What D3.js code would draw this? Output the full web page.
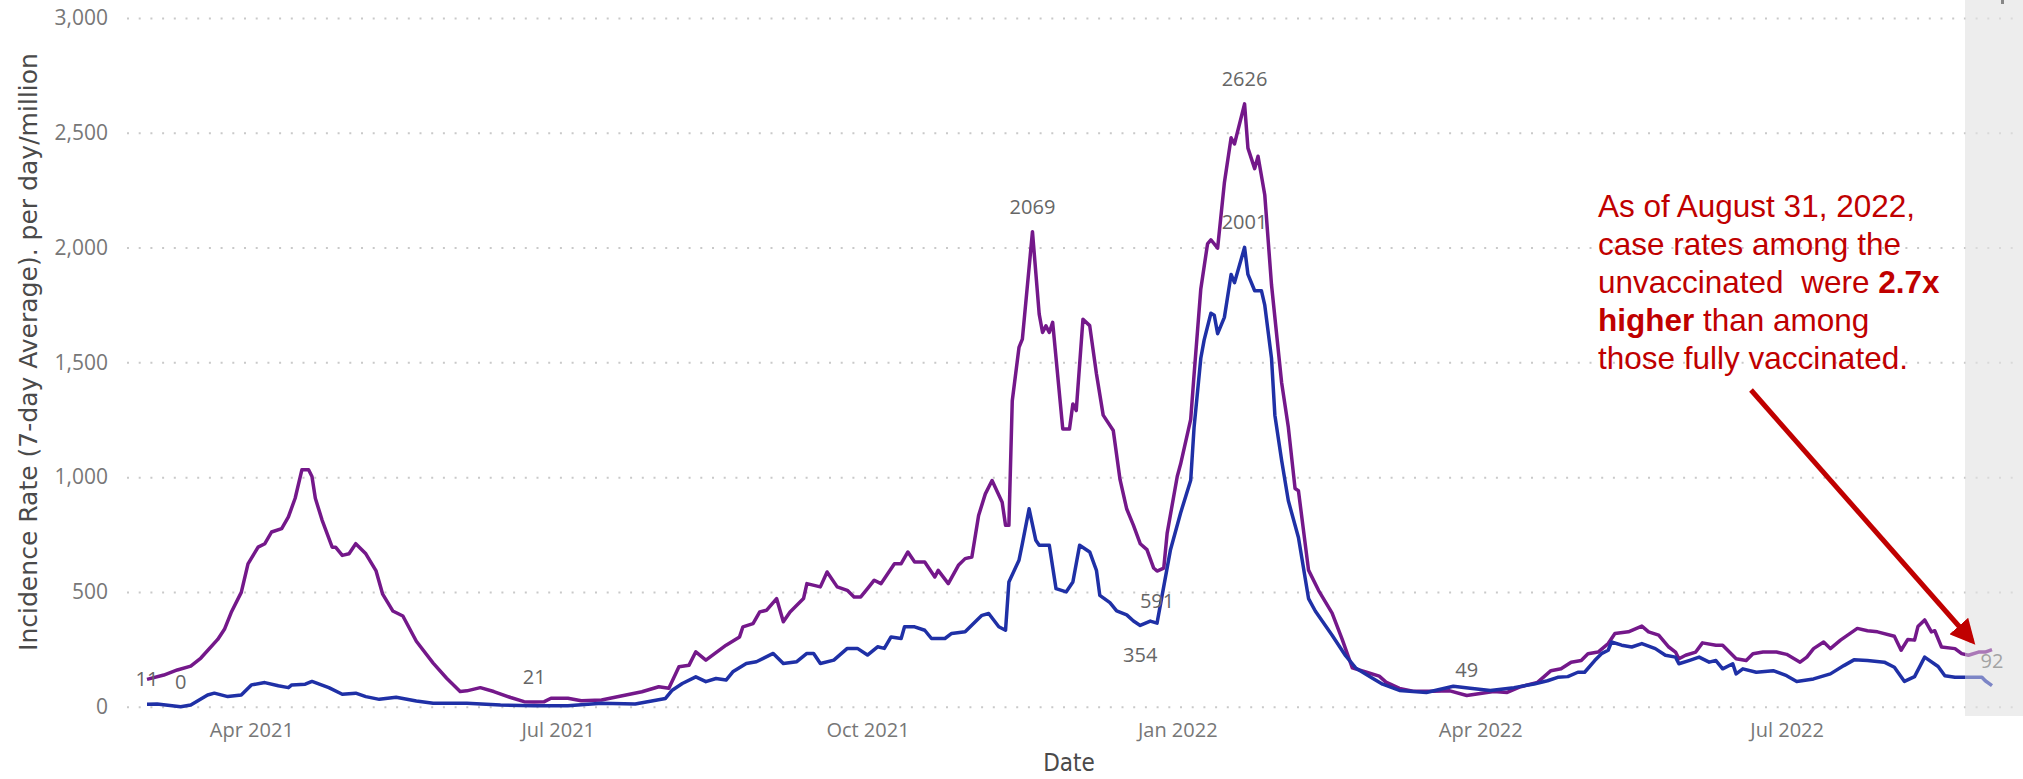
<!DOCTYPE html>
<html>
<head>
<meta charset="utf-8">
<script src="https://cdn.jsdelivr.net/npm/d3@7"></script>
<style>
  html, body { margin: 0; padding: 0; background: #fff; }
  svg { display: block; }
</style>
</head>
<body>
<svg id="chart" width="2023" height="779"></svg>
<script>
// Incidence rate per day/million, 7-day average.
// Days are counted from the first date of the series.
const startDate = new Date(2021, 2, 1);

// unvaccinated (purple)
const unvaxDay = [0,5,9,13,16,21,23,25,28,30,33,35,37,40,42,44,46,48,49,50,52,55,56,58,60,62,65,68,70,73,76,80,85,89,93,95,99,103,108,112,115,118,120,125,129,135,
  147,152,155,158,161,163,166,172,176,177,180,182,184,187,189,191,195,196,200,202,205,208,210,212,214,216,218,222,224,226,228,231,234,235,238,241,243,245,247,249,251,254,255,256,257,259,260,263,265,266,267,268,269,272,274,275,276,278,280,282,284,287,289,291,293,295,297,299,300,302,303,306,307,310,311,313,315,316,318,320,322,323,326,327,329,330,332,334,337,339,341,342,345,348,352,355,358,362,366,368,372,376,382,387,392,400,404,408,413,417,420,423,426,428,431,434,436,440,444,446,449,452,454,455,457,460,462,466,468,472,475,477,480,484,487,491,493,495,498,500,503,508,511,514,519,521,523,525,526,528,530,531,533,537,539,541,544,546,548];
const unvaxRate = [119,138,160,177,212,293,337,410,498,622,695,710,761,776,827,908,1032,1032,1003,908,813,695,695,659,666,710,666,593,490,417,395,285,190,124,66,69,83,66,40,22,21,22,37,37,26,29,
  65,87,80,174,181,239,203,268,304,348,362,413,420,471,370,413,471,536,522,587,522,507,478,478,514,551,536,623,623,674,630,630,565,594,536,616,645,652,833,927,985,891,790,790,1333,1565,1601,2069,1710,1630,1659,1630,1674,1210,1210,1319,1290,1688,1660,1450,1270,1203,990,861,790,710,684,604,591,604,755,1003,1057,1252,1447,1820,2016,2034,1998,2282,2478,2451,2626,2433,2344,2398,2229,1838,1412,1217,950,941,595,506,408,293,169,151,133,107,80,67,67,69,49,66,62,87,106,157,165,194,201,231,238,275,319,326,351,326,312,260,238,209,224,238,278,268,268,209,201,231,238,238,228,194,216,253,282,253,290,341,331,326,307,246,293,290,349,378,326,331,260,253,231,224,238,238,249];

// fully vaccinated (blue)
const vaxDay = [0,3,10,13,18,20,24,28,31,35,39,42,43,47,49,54,58,62,65,69,74,80,85,95,105,115,125,135,
  145,154,156,159,163,166,169,172,174,178,181,186,189,193,196,198,200,204,208,211,214,217,219,221,224,225,228,231,233,237,239,243,247,248,250,253,255,256,259,260,262,264,265,268,270,273,275,277,280,282,283,286,288,291,293,295,298,300,302,304,307,310,311,313,314,316,317,318,320,322,323,326,327,329,331,332,334,335,337,339,342,345,347,352,356,359,364,367,372,380,388,393,399,406,412,416,419,422,425,427,430,432,434,435,438,441,444,448,451,454,455,458,461,464,466,468,471,472,474,478,483,487,490,495,500,504,507,511,516,519,522,525,528,532,534,537,540,545,546,548];
const vaxRate = [11,12,0,7,51,59,44,51,95,105,91,83,95,98,110,83,54,59,44,32,41,25,15,15,7,4,4,15,
  12,36,72,101,130,109,123,116,152,188,196,232,188,196,232,232,188,203,254,254,225,261,254,304,297,348,348,333,297,297,319,326,384,398,406,348,333,543,638,710,862,725,703,703,514,500,543,703,674,594,485,453,417,400,373,354,373,364,524,684,844,986,1217,1518,1598,1714,1705,1625,1696,1883,1847,2001,1883,1812,1812,1749,1518,1270,1074,897,737,471,417,311,222,169,124,98,71,62,89,80,71,83,99,113,128,131,150,150,201,231,246,282,268,260,275,253,224,216,187,201,216,194,201,165,187,143,165,150,157,135,110,121,143,179,204,201,194,172,110,131,216,175,135,128,128,128,113,92];

// data labels shown on the chart: text, series, day, placed below the point?
const labelText   = ["11", "0", "21", "2069", "591", "354", "2626", "2001", "49", "92"];
const labelSeries = ["vax", "vax", "unvax", "unvax", "unvax", "vax", "unvax", "vax", "unvax", "vax"];
const labelDay    = [0, 10, 115, 263, 300, 295, 326, 326, 392, 548];
const labelBelow  = [false, false, false, false, true, true, false, false, false, false];

const yTicks = [0, 500, 1000, 1500, 2000, 2500, 3000];
const xTicks = [new Date(2021,3,1), new Date(2021,6,1), new Date(2021,9,1), new Date(2022,0,1), new Date(2022,3,1), new Date(2022,6,1)];

const svg = d3.select('#chart');

const x = d3.scaleTime()
    .domain([startDate, d3.timeDay.offset(startDate, 548)])
    .range([147, 1992]);
const y = d3.scaleLinear()
    .domain([0, 3000])
    .range([706.7, 18]);

const unvax = unvaxDay.map((d, i) => ({date: d3.timeDay.offset(startDate, d), day: d, v: unvaxRate[i]}));
const vax = vaxDay.map((d, i) => ({date: d3.timeDay.offset(startDate, d), day: d, v: vaxRate[i]}));
const seriesData = {unvax, vax};

const tickFont = '"Open Sans", "Noto Sans", sans-serif';
const titleFont = '"DejaVu Sans Condensed", "Liberation Sans Narrow", sans-serif';

// grey band at the right (focus area)
svg.append('rect')
    .attr('x', 1965).attr('y', 0)
    .attr('width', 58).attr('height', 716)
    .attr('fill', '#ededed');
svg.append('rect')
    .attr('x', 2001).attr('y', 0)
    .attr('width', 3).attr('height', 4)
    .attr('fill', '#333');

// y axis + dotted gridlines
const yAxis = svg.append('g')
    .attr('transform', 'translate(127,0)')
    .call(d3.axisLeft(y).tickValues(yTicks).tickFormat(d3.format(',')).tickSize(-(2015 - 127)).tickPadding(19));
yAxis.select('.domain').remove();
yAxis.selectAll('line')
    .attr('stroke', '#c9c9c9')
    .attr('stroke-width', 2)
    .attr('stroke-dasharray', '2 9.7');
yAxis.selectAll('text')
    .attr('fill', '#777')
    .style('font-family', tickFont)
    .style('font-size', '21px');

// x axis
const xAxis = svg.append('g')
    .attr('transform', 'translate(0,706.7)')
    .call(d3.axisBottom(x).tickValues(xTicks).tickFormat(d3.timeFormat('%b %Y')).tickSize(0));
xAxis.select('.domain').remove();
xAxis.selectAll('text')
    .attr('y', 23.5)
    .attr('dy', '0.35em')
    .attr('fill', '#777')
    .style('font-family', tickFont)
    .style('font-size', '20px');

// axis titles
svg.append('text')
    .attr('x', 1069).attr('y', 763)
    .attr('dy', '0.35em')
    .attr('text-anchor', 'middle')
    .attr('fill', '#4a4a4a')
    .style('font-family', titleFont)
    .style('font-size', '24px')
    .text('Date');
svg.append('text')
    .attr('transform', 'translate(28,352) rotate(-90)')
    .attr('dy', '0.35em')
    .attr('text-anchor', 'middle')
    .attr('fill', '#4a4a4a')
    .attr('textLength', 598)
    .attr('lengthAdjust', 'spacingAndGlyphs')
    .style('font-family', titleFont)
    .style('font-size', '25px')
    .text('Incidence Rate (7-day Average). per day/million');

// lines
const line = d3.line()
    .x(d => x(d.date))
    .y(d => y(d.v));

svg.append('path')
    .datum(unvax)
    .attr('fill', 'none')
    .attr('stroke', '#74188a')
    .attr('stroke-width', 3.5)
    .attr('stroke-linejoin', 'round')
    .attr('d', line);
svg.append('path')
    .datum(vax)
    .attr('fill', 'none')
    .attr('stroke', '#1f30a6')
    .attr('stroke-width', 3.5)
    .attr('stroke-linejoin', 'round')
    .attr('d', line);

// data labels
labelText.forEach((t, i) => {
    const pt = seriesData[labelSeries[i]].find(d => d.day === labelDay[i]);
    svg.append('text')
        .attr('x', x(pt.date))
        .attr('y', y(pt.v) + (labelBelow[i] ? 30 : -25))
        .attr('dy', '0.35em')
        .attr('text-anchor', 'middle')
        .attr('fill', '#666')
        .style('font-family', tickFont)
        .style('font-size', '20px')
        .text(t);
});

// fade whatever sits inside the grey band
svg.append('rect')
    .attr('x', 1965).attr('y', 0)
    .attr('width', 58).attr('height', 716)
    .attr('fill', '#ededed')
    .attr('opacity', 0.45);

// annotation
const red = '#c00000';
const defs = svg.append('defs');
defs.append('marker')
    .attr('id', 'head')
    .attr('viewBox', '0 0 10 10')
    .attr('refX', 8).attr('refY', 5)
    .attr('markerWidth', 5).attr('markerHeight', 5)
    .attr('orient', 'auto')
  .append('path')
    .attr('d', 'M0,0 L10,5 L0,10 z')
    .attr('fill', red);

svg.append('line')
    .attr('x1', 1751).attr('y1', 390)
    .attr('x2', 1972).attr('y2', 641)
    .attr('stroke', red)
    .attr('stroke-width', 5)
    .attr('marker-end', 'url(#head)');

const note = [
    [['As of August 31, 2022,', false]],
    [['case rates among the', false]],
    [['unvaccinated  were ', false], ['2.7x', true]],
    [['higher', true], [' than among', false]],
    [['those fully vaccinated.', false]]
];
const noteText = svg.append('text')
    .attr('fill', red)
    .style('font-family', '"Liberation Sans", Arial, sans-serif')
    .style('font-size', '31.5px')
    .style('white-space', 'pre');
note.forEach((parts, i) => {
    parts.forEach((p, j) => {
        const ts = noteText.append('tspan')
            .style('font-weight', p[1] ? 'bold' : 'normal')
            .text(p[0]);
        if (j === 0) ts.attr('x', 1598).attr('y', 217 + i * 38);
    });
});
</script>
</body>
</html>
